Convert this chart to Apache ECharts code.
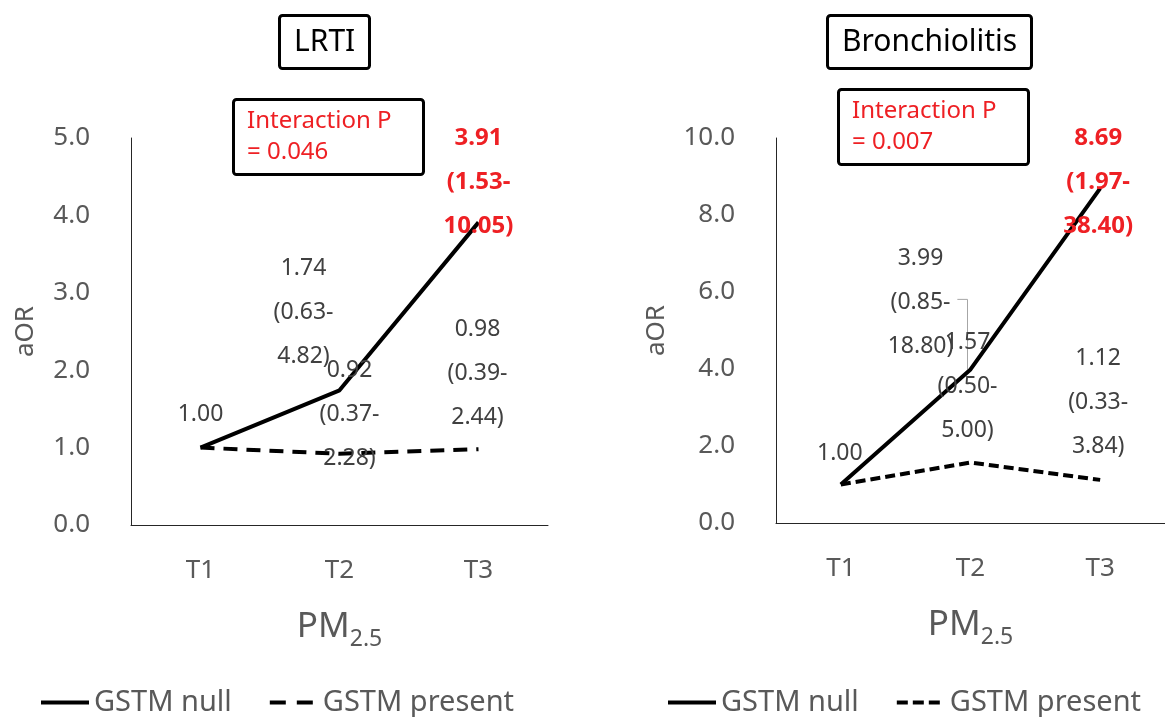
<!DOCTYPE html>
<html>
<head>
<meta charset="utf-8">
<title>aOR by PM2.5 tertile and GSTM genotype</title>
<script src="https://cdn.jsdelivr.net/npm/echarts@6/dist/echarts.min.js"></script>
<style>
  html, body { margin: 0; padding: 0; background: #fff; }
  #chart { width: 1165px; height: 717px; }
</style>
</head>
<body>
<div id="chart"></div>
<script>
// PM2.5 tertiles
const categories = ['T1', 'T2', 'T3'];

// LRTI: adjusted odds ratios with 95% CI
const lrtiNull = [1.00, 1.74, 3.91];
const lrtiNullCI = [null, [0.63, 4.82], [1.53, 10.05]];
const lrtiPresent = [1.00, 0.92, 0.98];
const lrtiPresentCI = [null, [0.37, 2.28], [0.39, 2.44]];

// Bronchiolitis: adjusted odds ratios with 95% CI
const bronNull = [1.00, 3.99, 8.69];
const bronNullCI = [null, [0.85, 18.80], [1.97, 38.40]];
const bronPresent = [1.00, 1.57, 1.12];
const bronPresentCI = [null, [0.50, 5.00], [0.33, 3.84]];

// y-axis ticks per panel
const lrtiTicks = [0, 1, 2, 3, 4, 5];
const bronTicks = [0, 2, 4, 6, 8, 10];

const panelTitles = ['LRTI', 'Bronchiolitis'];
const interactionP = ['0.046', '0.007'];
const seriesNames = ['GSTM null', 'GSTM present'];

// ---- styling / layout ----
const FONT = '"Noto Sans", "Open Sans", sans-serif';
const GRAY = '#595959';
const LABEL_GRAY = '#404040';
const RED = '#ee2024';
const LINE_W = 4;
const LABEL_SIZE = 23;

// label nudges (px) from each point, and which labels are shown / highlighted
const labelNudge = {
  lrtiNull:    [[0, -33], [-36, -78], [0, -40]],
  lrtiPresent: [[0, 0], [10, -39], [-1, -76]],
  bronNull:    [[-1, -31], [-50, -67], [-2, -6]],
  bronPresent: [[0, 0], [-3, -76], [-2, -77]]
};
const labelShown = { null: [true, true, true], present: [false, true, true] };
const highlightIdx = 2; // significant estimate at T3 for GSTM null
const bronGuideIdx = 1;  // bronchiolitis GSTM-null label that gets a leader line

function labelText(v, ci) {
  if (!ci) return v.toFixed(2);
  return v.toFixed(2) + '\n(' + ci[0].toFixed(2) + '-\n' + ci[1].toFixed(2) + ')';
}

function makeData(values, ci, shown, highlight) {
  return values.map(function (v, i) {
    const hl = highlight && i === highlightIdx;
    return {
      value: v,
      label: {
        show: shown[i],
        formatter: labelText(v, ci[i]),
        color: hl ? RED : LABEL_GRAY,
        fontWeight: hl ? 'bold' : 'normal',
        fontSize: hl ? 24 : LABEL_SIZE
      }
    };
  });
}

function nudgeLayout(nudges) {
  return function (params) {
    const n = nudges[params.dataIndex];
    return {
      x: params.rect.x + params.rect.width / 2 + n[0],
      y: params.rect.y + params.rect.height / 2 + n[1]
    };
  };
}

function lineSeries(name, axisIdx, values, ci, shown, highlight, dash, nudges) {
  return {
    name: name,
    type: 'line',
    xAxisIndex: axisIdx,
    yAxisIndex: axisIdx,
    data: makeData(values, ci, shown, highlight),
    symbol: 'circle',
    symbolSize: 2,
    itemStyle: { color: 'rgba(0,0,0,0)' },
    lineStyle: { color: '#000', width: LINE_W, type: dash },
    label: {
      position: 'inside',
      align: 'center',
      verticalAlign: 'middle',
      fontFamily: FONT,
      lineHeight: 44
    },
    labelLayout: nudgeLayout(nudges),
    emphasis: { disabled: true },
    animation: false,
    z: 3
  };
}

// half width of the widest line of a label, for placing its leader line
function labelHalfWidth(text, size) {
  const ctx = document.createElement('canvas').getContext('2d');
  ctx.font = size + 'px ' + FONT;
  return Math.max.apply(null, text.split('\n').map(function (s) { return ctx.measureText(s).width; })) / 2;
}

// elbow leader from the right of a moved label's middle line down to its point
function leaderSeries(axisIdx, values, ci, nudges, idx) {
  const halfW = labelHalfWidth(labelText(values[idx], ci[idx]), LABEL_SIZE);
  const n = nudges[idx];
  return {
    type: 'custom',
    xAxisIndex: axisIdx,
    yAxisIndex: axisIdx,
    data: [[idx, values[idx]]],
    silent: true,
    z: 2,
    renderItem: function (params, api) {
      const p = api.coord([api.value(0), api.value(1)]);
      const ly = p[1] + n[1] - 3;
      const vx = p[0] - 3;
      return {
        type: 'polyline',
        shape: { points: [[p[0] + n[0] + halfW + 4, ly], [vx, ly], [vx, p[1]]] },
        style: { stroke: '#a6a6a6', lineWidth: 1, fill: null }
      };
    }
  };
}

function yAxis(gridIdx, ticks, nameGap) {
  return {
    type: 'value',
    gridIndex: gridIdx,
    min: ticks[0],
    max: ticks[ticks.length - 1],
    interval: ticks[1] - ticks[0],
    name: 'aOR',
    nameLocation: 'middle',
    nameGap: nameGap,
    nameTextStyle: { fontSize: 26, color: GRAY, fontFamily: FONT },
    axisLine: { show: true, lineStyle: { color: '#262626', width: 1 } },
    axisTick: { show: false },
    splitLine: { show: false },
    axisLabel: {
      fontSize: 26, color: GRAY, fontFamily: FONT, margin: 41,
      formatter: function (v) { return v.toFixed(1); }
    }
  };
}

function xAxis(gridIdx) {
  return {
    type: 'category',
    gridIndex: gridIdx,
    data: categories,
    boundaryGap: true,
    name: '{a|PM}{b|2.5}',
    nameLocation: 'middle',
    nameGap: 78,
    nameTextStyle: {
      rich: {
        a: { fontSize: 35, color: GRAY, fontFamily: FONT, lineHeight: 48 },
        b: { fontSize: 23, color: GRAY, fontFamily: FONT, lineHeight: 16, verticalAlign: 'bottom' }
      }
    },
    axisLine: { show: true, lineStyle: { color: '#262626', width: 1 } },
    axisTick: { show: false },
    axisLabel: { fontSize: 26, color: GRAY, fontFamily: FONT, margin: 31, lineHeight: 30 }
  };
}

function boxTitle(text, left, top, opts) {
  return Object.assign({
    text: text,
    left: left,
    top: top,
    borderColor: '#000',
    borderWidth: 3,
    borderRadius: 3,
    textStyle: { fontSize: 30, fontWeight: 'normal', color: '#000', fontFamily: FONT, lineHeight: 40 },
    padding: [7, 15]
  }, opts || {});
}

function pTitle(p, left, top) {
  return boxTitle('Interaction P\n= ' + p, left, top, {
    textAlign: 'left',
    padding: [7, 32, 7, 14],
    textStyle: { fontSize: 24, fontWeight: 'normal', color: RED, fontFamily: FONT, lineHeight: 31 }
  });
}

function legend(left, presentDash) {
  return {
    left: left,
    top: 683,
    itemWidth: 48,
    itemHeight: 14,
    itemGap: 36,
    textStyle: { fontSize: 29, color: GRAY, fontFamily: FONT },
    data: [
      { name: seriesNames[0], lineStyle: { width: LINE_W } },
      { name: seriesNames[1], lineStyle: { width: LINE_W, type: presentDash } }
    ]
  };
}

const LRTI_DASH = [14, 9];
const BRON_DASH = [10, 5];
const LRTI_LEGEND_DASH = [16, 11];
const BRON_LEGEND_DASH = [11, 5];

const option = {
  backgroundColor: '#fff',
  animation: false,
  title: [
    boxTitle(panelTitles[0], 279, 15),
    boxTitle(panelTitles[1], 827, 15),
    pTitle(interactionP[0], 233, 99),
    pTitle(interactionP[1], 838, 89)
  ],
  legend: [legend(34, LRTI_LEGEND_DASH), legend(661, BRON_LEGEND_DASH)],
  grid: [
    { left: 131, top: 138, width: 417, height: 387 },
    { left: 776, top: 138, width: 399, height: 385 }
  ],
  xAxis: [xAxis(0), xAxis(1)],
  yAxis: [yAxis(0, lrtiTicks, 92), yAxis(1, bronTicks, 106)],
  series: [
    lineSeries(seriesNames[0], 0, lrtiNull, lrtiNullCI, labelShown.null, true, 'solid', labelNudge.lrtiNull),
    lineSeries(seriesNames[1], 0, lrtiPresent, lrtiPresentCI, labelShown.present, false, LRTI_DASH, labelNudge.lrtiPresent),
    lineSeries(seriesNames[0], 1, bronNull, bronNullCI, labelShown.null, true, 'solid', labelNudge.bronNull),
    lineSeries(seriesNames[1], 1, bronPresent, bronPresentCI, labelShown.present, false, BRON_DASH, labelNudge.bronPresent),
    leaderSeries(1, bronNull, bronNullCI, labelNudge.bronNull, bronGuideIdx)
  ]
};

const chart = echarts.init(document.getElementById('chart'), null, { renderer: 'canvas' });
chart.setOption(option);
</script>
</body>
</html>
